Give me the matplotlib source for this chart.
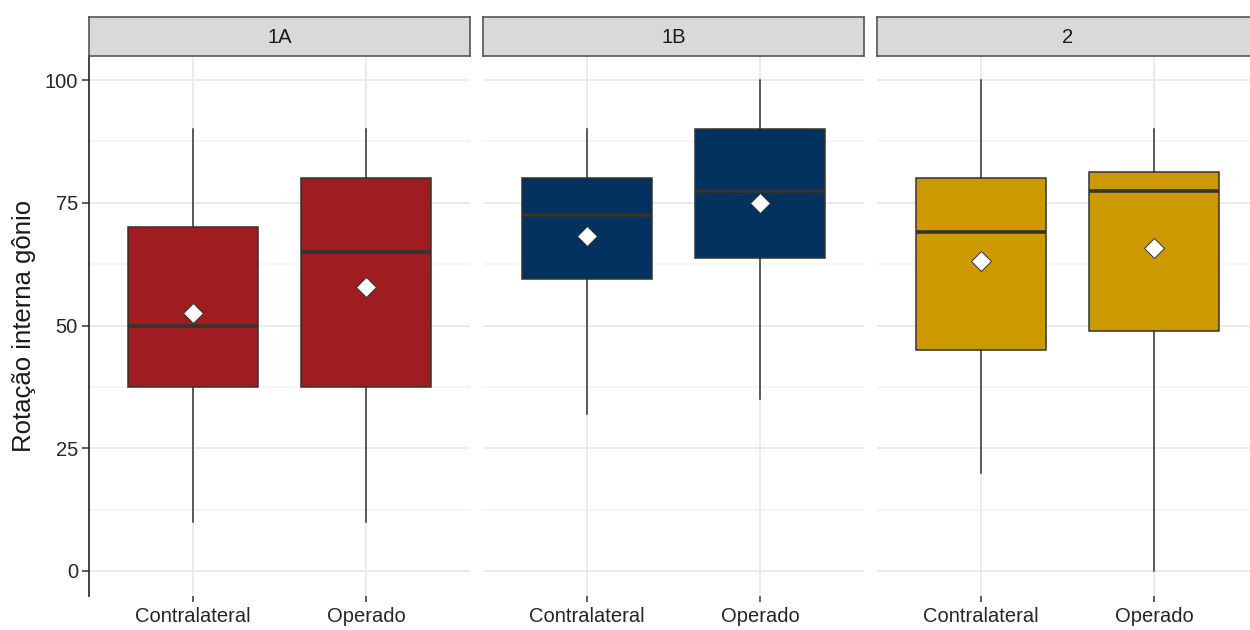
import numpy as np
import matplotlib
matplotlib.use('Agg')
import matplotlib.pyplot as plt

plt.rcParams['font.family'] = ['Liberation Sans', 'DejaVu Sans']

# Dados por grupo (linhas) e lado (colunas)
grupos = ['1A', '1B', '2']
lados = ['Contralateral', 'Operado']
cores = ['#9F1C21', '#00315F', '#CC9A00']

minimo = [[10, 10], [32, 35], [20, 0]]
q1 = [[37.5, 37.5], [59.4, 63.8], [45, 48.9]]
mediana = [[50, 65], [72.5, 77.5], [69, 77.5]]
q3 = [[70, 80], [80, 90], [80, 81.3]]
maximo = [[90, 90], [90, 100], [100, 90]]
media = [[52.6, 57.8], [68.2, 75.0], [63.1, 65.8]]

fig = plt.figure(figsize=(12.5, 6.3), dpi=100)

W = 1250
H = 630
larg = 381
esquerdas = [89, 483, 877]
topo = 55.5
base = 595.5
strip_top = 17

escuro = '#333333'
grade = '#EBEBEB'

for g in range(len(grupos)):
    x0 = esquerdas[g] / W
    ax = fig.add_axes([x0, 1 - base / H, larg / W, (base - topo) / H])

    stats = []
    for k in range(len(lados)):
        stats.append({'med': mediana[g][k], 'q1': q1[g][k], 'q3': q3[g][k],
                      'whislo': minimo[g][k], 'whishi': maximo[g][k],
                      'fliers': [], 'mean': media[g][k], 'label': lados[k]})
    pos = np.arange(1, len(lados) + 1)
    bp = ax.bxp(stats, positions=pos, widths=0.75, patch_artist=True,
                showcaps=False, showfliers=False, showmeans=False,
                boxprops=dict(facecolor=cores[g], edgecolor=escuro, linewidth=1.1),
                whiskerprops=dict(color=escuro, linewidth=1.1),
                medianprops=dict(color=escuro, linewidth=2.6, solid_capstyle='butt'),
                zorder=3)
    # media como losango branco
    ax.plot(pos, media[g], linestyle='none', marker='D', markersize=10.5,
            markerfacecolor='white', markeredgecolor=escuro, markeredgewidth=0.7,
            zorder=5)

    ax.set_xlim(0.4, 2.6)
    ax.set_ylim(-5, 105)
    ax.set_yticks([0, 25, 50, 75, 100])
    ax.set_yticks([12.5, 37.5, 62.5, 87.5], minor=True)
    ax.set_xticks(pos)
    ax.set_xticklabels(lados)

    ax.grid(True, which='major', color=grade, linewidth=1.4, zorder=0)
    ax.grid(True, which='minor', axis='y', color='#F3F3F3', linewidth=1.1, zorder=0)
    ax.set_axisbelow(True)

    for s in ['top', 'right', 'bottom']:
        ax.spines[s].set_visible(False)
    ax.tick_params(axis='x', length=4, width=1.1, color=escuro, pad=4,
                   labelsize=14.5, labelcolor='#262626')
    ax.tick_params(axis='y', which='minor', length=0)
    if g == 0:
        ax.spines['left'].set_color(escuro)
        ax.spines['left'].set_linewidth(1.3)
        ax.tick_params(axis='y', length=5, width=1.1, color=escuro, pad=3,
                       labelsize=14.5, labelcolor='#262626')
        ax.set_ylabel('Rotação interna gônio', fontsize=18.5, labelpad=6,
                      color='#1A1A1A')
    else:
        ax.spines['left'].set_visible(False)
        ax.tick_params(axis='y', length=0, labelleft=False)

    # faixa do facet
    sax = fig.add_axes([x0, 1 - topo / H, larg / W, (topo - strip_top) / H])
    sax.set_facecolor('#D9D9D9')
    sax.set_xticks([])
    sax.set_yticks([])
    for s in sax.spines.values():
        s.set_color('#555555')
        s.set_linewidth(1.2)
    sax.text(0.5, 0.47, grupos[g], ha='center', va='center', fontsize=14.5,
             color='#1A1A1A', transform=sax.transAxes)

fig.savefig('out.png', dpi=100, facecolor='white')
